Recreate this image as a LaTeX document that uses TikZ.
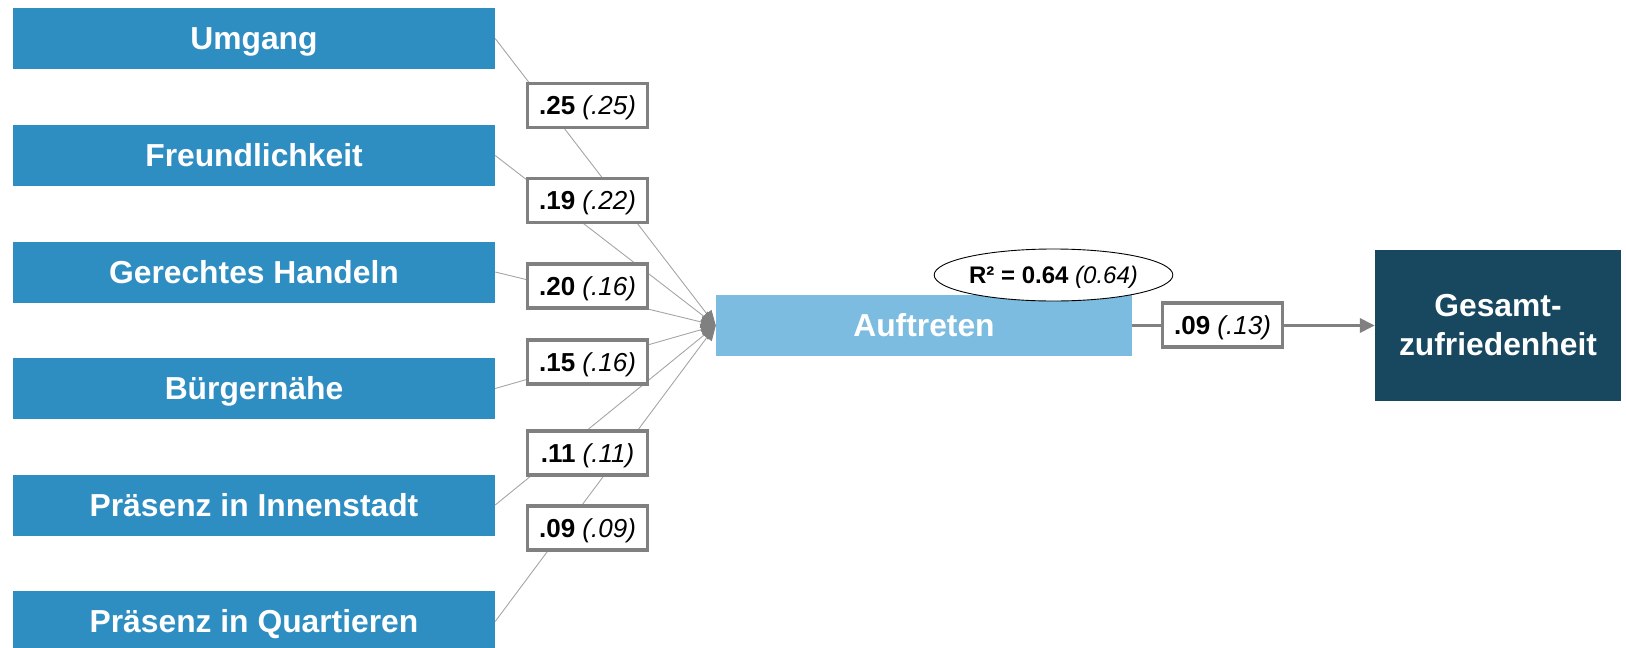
\documentclass[tikz,border=0pt]{standalone}
\usepackage{fontspec}
\setmainfont{Liberation Sans}
\usetikzlibrary{arrows.meta,shapes.geometric}
\definecolor{leftblue}{RGB}{46,142,194}
\definecolor{lightblue}{RGB}{123,188,224}
\definecolor{darkteal}{RGB}{23,72,95}
\definecolor{bordergray}{RGB}{128,128,128}
\definecolor{thingray}{RGB}{165,165,165}
\tikzset{
  leftbox/.style={fill=leftblue, minimum width=482, minimum height=61, inner sep=0pt,
    text=white, font=\bfseries\fontsize{31.8}{38}\selectfont, text height=22.6pt, text depth=0pt},
  midbox/.style={fill=lightblue, minimum width=416, minimum height=61, inner sep=0pt,
    text=white, font=\bfseries\fontsize{31.8}{38}\selectfont, text height=22.6pt, text depth=0pt},
  endbox/.style={fill=darkteal, minimum width=246, minimum height=151, inner sep=0pt,
    text=white, font=\bfseries\fontsize{31.8}{39}\selectfont, align=center},
  coefbox/.style={draw=bordergray, line width=3.2pt, fill=white, minimum width=120, minimum height=44,
    inner sep=0pt, font=\fontsize{26}{30}\selectfont, text height=18.6pt, text depth=0pt},
  rsqbox/.style={ellipse, draw=black, line width=0.9pt, fill=white, minimum width=235, minimum height=52,
    inner sep=0pt, font=\fontsize{24}{28}\selectfont, text height=17.2pt, text depth=0pt},
  pathline/.style={draw=thingray, line width=0.9pt, -{Triangle[length=15pt,width=12pt,color=bordergray]}},
  mainline/.style={draw=bordergray, line width=3.5pt, -{Triangle[length=15pt,width=14pt,color=bordergray]}}
}
\begin{document}
\begin{tikzpicture}[x=1pt,y=-1pt]
\useasboundingbox (0,0) rectangle (1626,648);
% left predictor boxes
\node[leftbox] (b1) at (254,38.5) {Umgang};
\node[leftbox] (b2) at (254,155.5) {Freundlichkeit};
\node[leftbox] (b3) at (254,272) {Gerechtes Handeln};
\node[leftbox] (b4) at (254,388.5) {Bürgernähe};
\node[leftbox] (b5) at (254,505) {Präsenz in Innenstadt};
\node[leftbox] (b6) at (254,621.5) {Präsenz in Quartieren};
% mediator and outcome
\node[midbox] (auf) at (924,325.5) {Auftreten};
\node[endbox] (gz) at (1498,325.5) {Gesamt-\\zufriedenheit};
% paths
\foreach \b in {b1,b2,b3,b4,b5,b6}{
  \draw[pathline] (\b.east) -- (auf.west);
}
\draw[mainline] (auf.east) -- (gz.west);
% coefficient labels
\node[coefbox] (l1) at (587.5,105.5) {\textbf{.25} \textit{(.25)}};
\node[coefbox] (l2) at (587.5,200.5) {\textbf{.19} \textit{(.22)}};
\node[coefbox] (l3) at (587.5,286) {\textbf{.20} \textit{(.16)}};
\node[coefbox] (l4) at (587.5,362) {\textbf{.15} \textit{(.16)}};
\node[coefbox] (l5) at (587.5,453) {\textbf{.11} \textit{(.11)}};
\node[coefbox] (l6) at (587.5,528) {\textbf{.09} \textit{(.09)}};
\node[coefbox] (l7) at (1222.5,325) {\textbf{.09} \textit{(.13)}};
% R squared
\node[rsqbox] (rsq) at (1053.5,275) {\textbf{R² = 0.64} \textit{(0.64)}};
\end{tikzpicture}
\end{document}
